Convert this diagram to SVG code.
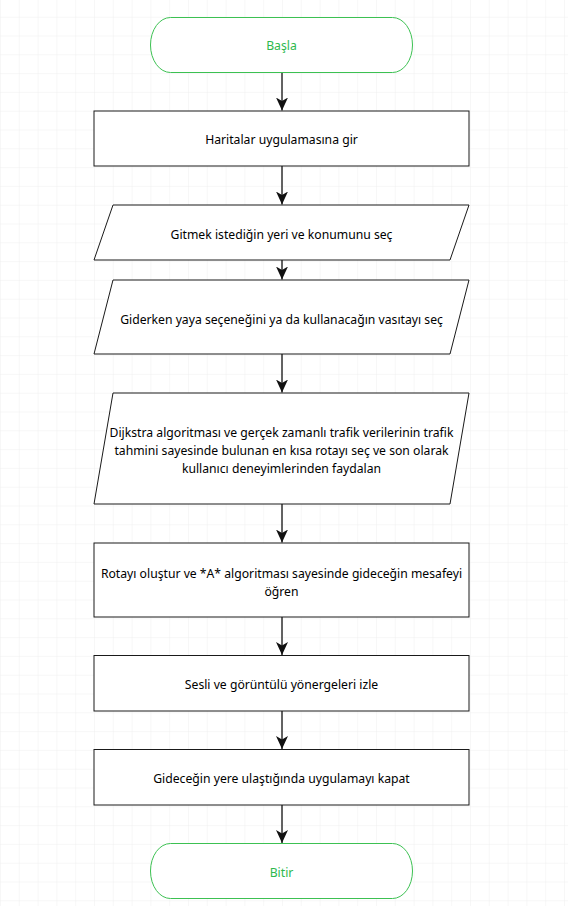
<svg xmlns="http://www.w3.org/2000/svg" width="568" height="906" viewBox="0 0 568 906">
<style>
.bg{fill:#ffffff}
.box{fill:#ffffff;stroke:#1a1a1a;stroke-width:1}
.term{fill:#ffffff;stroke:#3cc152;stroke-width:1}
.t{font-family:"Noto Sans","Open Sans","DejaVu Sans",sans-serif;font-size:12.2px;fill:#000000;text-anchor:middle}
.tg{font-family:"Noto Sans","Open Sans","DejaVu Sans",sans-serif;font-size:12.2px;fill:#2db84d;text-anchor:middle}
.edge{fill:none;stroke:#111111;stroke-width:1.3}
</style>
<defs>
<pattern id="grid" patternUnits="userSpaceOnUse" x="0" y="-2.1" width="18.8" height="18.8">
<path d="M18.8,0 L0,0 L0,18.8" fill="none" stroke="#efefef" stroke-width="1"/>
</pattern>
<marker id="arr" markerUnits="userSpaceOnUse" viewBox="-13 -7 14 14" refX="0" refY="0" markerWidth="14" markerHeight="14" orient="auto">
<path d="M0,0 L-13,-6 L-9.5,0 L-13,6 Z" fill="#111111"/>
</marker>
</defs>
<rect class="bg" x="0" y="0" width="568" height="906"/>
<rect x="0" y="0" width="568" height="906" fill="url(#grid)"/>

<g id="connectors">
<path class="edge" d="M282,73 L282,110.5" marker-end="url(#arr)"/>
<path class="edge" d="M282,166 L282,204.5" marker-end="url(#arr)"/>
<path class="edge" d="M282,260 L282,279.5" marker-end="url(#arr)"/>
<path class="edge" d="M282,354 L282,392.5" marker-end="url(#arr)"/>
<path class="edge" d="M282,504 L282,542.5" marker-end="url(#arr)"/>
<path class="edge" d="M282,617 L282,655" marker-end="url(#arr)"/>
<path class="edge" d="M282,711 L282,749" marker-end="url(#arr)"/>
<path class="edge" d="M282,805 L282,843" marker-end="url(#arr)"/>
</g>

<g id="start">
<rect class="term" x="150.5" y="17.5" width="262" height="55" rx="20" ry="27.5"/>
<text class="tg" x="281.5" y="50">Başla</text>
</g>

<g id="step1">
<rect class="box" x="94" y="111" width="375" height="55"/>
<text class="t" x="281.5" y="144">Haritalar uygulamasına gir</text>
</g>

<g id="step2">
<polygon class="box" points="113,205 469,205 450,260 94,260"/>
<text class="t" x="281.5" y="239">Gitmek istediğin yeri ve konumunu seç</text>
</g>

<g id="step3">
<polygon class="box" points="113,280 469,280 450,354 94,354"/>
<text class="t" x="281.5" y="323.5">Giderken yaya seçeneğini ya da kullanacağın vasıtayı seç</text>
</g>

<g id="step4">
<polygon class="box" points="113,393 469,393 450,504 94,504"/>
<text class="t" x="281.5" y="436.5">Dijkstra algoritması ve gerçek zamanlı trafik verilerinin trafik</text>
<text class="t" x="281.5" y="454.5">tahmini sayesinde bulunan en kısa rotayı seç ve son olarak</text>
<text class="t" x="281.5" y="472.5">kullanıcı deneyimlerinden faydalan</text>
</g>

<g id="step5">
<rect class="box" x="94" y="543" width="375" height="74"/>
<text class="t" x="281.5" y="577.5">Rotayı oluştur ve *A* algoritması sayesinde gideceğin mesafeyi</text>
<text class="t" x="281.5" y="595.5">öğren</text>
</g>

<g id="step6">
<rect class="box" x="94" y="655.5" width="375" height="55.5"/>
<text class="t" x="281.5" y="689">Sesli ve görüntülü yönergeleri izle</text>
</g>

<g id="step7">
<rect class="box" x="94" y="749.5" width="375" height="55.5"/>
<text class="t" x="281.5" y="782.5">Gideceğin yere ulaştığında uygulamayı kapat</text>
</g>

<g id="end">
<rect class="term" x="150.5" y="843.5" width="262" height="55" rx="20" ry="27.5"/>
<text class="tg" x="281.5" y="876.5">Bitir</text>
</g>
</svg>
